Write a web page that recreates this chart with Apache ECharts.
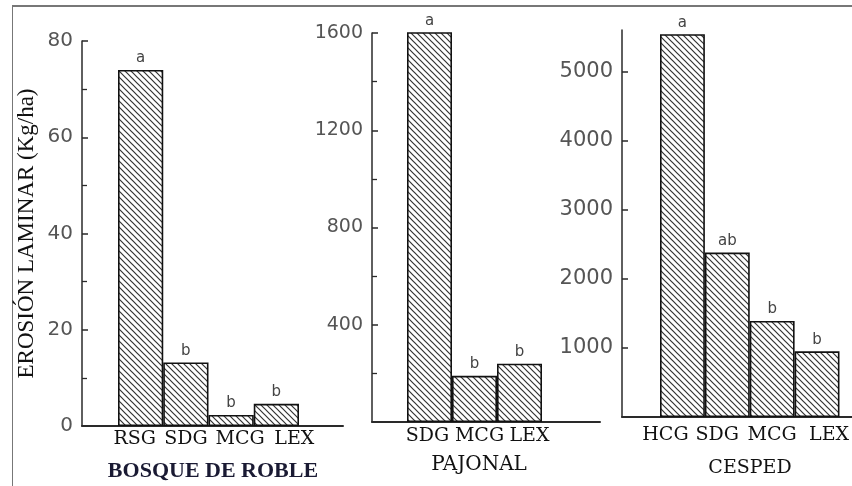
<!DOCTYPE html>
<html>
<head>
<meta charset="utf-8">
<script src="https://cdn.jsdelivr.net/npm/echarts@6/dist/echarts.min.js"></script>
<style>
  html, body { margin: 0; padding: 0; background: #fff; }
  #frame { position: absolute; left: 12px; top: 5px; width: 840px; height: 481px;
           border-left: 1px solid #777; border-top: 2px solid #777; box-sizing: border-box; }
  #chart { position: absolute; left: 0; top: 0; width: 852px; height: 486px; }
</style>
</head>
<body>
<div id="frame"></div>
<div id="chart"></div>
<script>
// ---- Data ----
const yTitle = 'EROSIÓN LAMINAR (Kg/ha)';

const panel1Name = 'BOSQUE DE ROBLE';
const panel1Cats = ['RSG', 'SDG', 'MCG', 'LEX'];
const panel1Vals = [74, 13.2, 2.3, 4.6];
const panel1Sig  = ['a', 'b', 'b', 'b'];
const panel1Ticks = [0, 20, 40, 60, 80];

const panel2Name = 'PAJONAL';
const panel2Cats = ['SDG', 'MCG', 'LEX'];
const panel2Vals = [1610, 190, 240];
const panel2Sig  = ['a', 'b', 'b'];
const panel2Ticks = [400, 800, 1200, 1600];

const panel3Name = 'CESPED';
const panel3Cats = ['HCG', 'SDG', 'MCG', 'LEX'];
const panel3Vals = [5540, 2380, 1390, 950];
const panel3Sig  = ['a', 'ab', 'b', 'b'];
const panel3Ticks = [1000, 2000, 3000, 4000, 5000];

// ---- Hatch pattern ----
function makeHatch() {
  const s = 6;
  const c = document.createElement('canvas');
  c.width = s; c.height = s;
  const g = c.getContext('2d');
  g.fillStyle = '#fff';
  g.fillRect(0, 0, s, s);
  g.strokeStyle = '#333';
  g.lineWidth = 1.2;
  g.beginPath();
  g.moveTo(-1, -1); g.lineTo(s + 1, s + 1);
  g.moveTo(s - 1, -1); g.lineTo(s + 1, 1);
  g.moveTo(-1, s - 1); g.lineTo(1, s + 1);
  g.stroke();
  return c;
}
const hatch = { image: makeHatch(), repeat: 'repeat' };

const serif = 'Liberation Serif';
const wideSerif = 'DejaVu Serif';
const sans = 'DejaVu Sans';
const axisColor = '#2a2a2a';
const numColor = '#555';

// panel geometry (layout only); labelShift = horizontal nudge of each category label
const P = [
  { axisLeft: 82,  axisWidth: 261, barLeft: 118, barWidth: 181, top: 41, height: 385, max: 80,   interval: 20,  lblSize: 20, catMargin: 4,
    labelShift: [-6, 0, 9, 18] },
  { axisLeft: 372, axisWidth: 228, barLeft: 407, barWidth: 135, top: 33, height: 389, max: 1600, interval: 400, lblSize: 19, catMargin: 5,
    labelShift: [-2, 5, 10] },
  { axisLeft: 622, axisWidth: 230, barLeft: 660, barWidth: 180, top: 30, height: 387, max: 5600, interval: 1000, lblSize: 21, catMargin: 9,
    labelShift: [-17, -10, 0, 12] }
];
const cats = [panel1Cats, panel2Cats, panel3Cats];
const vals = [panel1Vals, panel2Vals, panel3Vals];
const sigs = [panel1Sig, panel2Sig, panel3Sig];
const ticks = [panel1Ticks, panel2Ticks, panel3Ticks];

function shiftRich(shifts) {
  const rich = {};
  shifts.forEach((d, k) => {
    rich['o' + k] = {
      fontFamily: wideSerif, fontSize: 19, color: '#111',
      padding: d >= 0 ? [0, 0, 0, 2 * d] : [0, -2 * d, 0, 0]
    };
  });
  return rich;
}

const grid = [], xAxis = [], yAxis = [], series = [];
P.forEach((p, i) => {
  grid.push({ left: p.axisLeft, top: p.top, width: p.axisWidth, height: p.height });
  grid.push({ left: p.barLeft, top: p.top, width: p.barWidth, height: p.height });
  const ga = 2 * i, gb = 2 * i + 1;
  xAxis.push({
    gridIndex: ga, type: 'value', min: 0, max: 1,
    axisLine: { show: true, lineStyle: { color: axisColor, width: 2 } },
    axisTick: { show: false }, axisLabel: { show: false }, splitLine: { show: false }
  });
  xAxis.push({
    gridIndex: gb, type: 'category', data: cats[i],
    axisLine: { show: false }, axisTick: { show: false }, splitLine: { show: false },
    axisLabel: {
      interval: 0, margin: p.catMargin, fontFamily: wideSerif, fontSize: 19, color: '#111',
      formatter: (v, idx) => '{o' + idx + '|' + v + '}',
      rich: shiftRich(p.labelShift)
    }
  });
  const ya = {
    gridIndex: ga, type: 'value', min: 0, max: p.max, interval: p.interval,
    axisLine: { show: true, lineStyle: { color: axisColor, width: 1.5 } },
    axisTick: { show: true, inside: true, length: 6, lineStyle: { color: axisColor, width: 1.5 }, customValues: ticks[i] },
    minorTick: { show: i < 2, splitNumber: 2, length: 5, lineStyle: { color: axisColor, width: 1.3 } },
    axisLabel: { margin: 9, fontFamily: sans, fontSize: p.lblSize, color: numColor,
                 customValues: ticks[i], formatter: (v) => String(v) },
    splitLine: { show: false }
  };
  if (i === 0) {
    ya.name = yTitle;
    ya.nameLocation = 'middle';
    ya.nameRotate = 90;
    ya.nameGap = 44;
    ya.nameTextStyle = { fontFamily: serif, fontSize: 23, color: '#111' };
  }
  yAxis.push(ya);
  yAxis.push({ gridIndex: gb, type: 'value', min: 0, max: p.max, show: false });
  series.push({
    type: 'bar', xAxisIndex: gb, yAxisIndex: gb,
    data: vals[i], barCategoryGap: 0,
    itemStyle: { color: hatch, borderColor: '#111', borderWidth: 1.6 },
    label: {
      show: true, position: 'top', distance: 4,
      formatter: (d) => sigs[i][d.dataIndex],
      fontFamily: sans, fontSize: 15, color: '#444'
    },
    silent: true, animation: false
  });
});

const title = [
  { text: panel1Name, left: 208, top: 455, textAlign: 'center',
    textStyle: { fontFamily: serif, fontWeight: 'bold', fontSize: 22, color: '#1a1a33' } },
  { text: panel2Name, left: 474, top: 450, textAlign: 'center',
    textStyle: { fontFamily: wideSerif, fontWeight: 'normal', fontSize: 20, color: '#111' } },
  { text: panel3Name, left: 745, top: 454, textAlign: 'center',
    textStyle: { fontFamily: wideSerif, fontWeight: 'normal', fontSize: 19, color: '#111' } }
];

const chart = echarts.init(document.getElementById('chart'), null, { renderer: 'canvas' });
chart.setOption({
  backgroundColor: 'transparent',
  animation: false,
  title, grid, xAxis, yAxis, series
});
</script>
</body>
</html>
